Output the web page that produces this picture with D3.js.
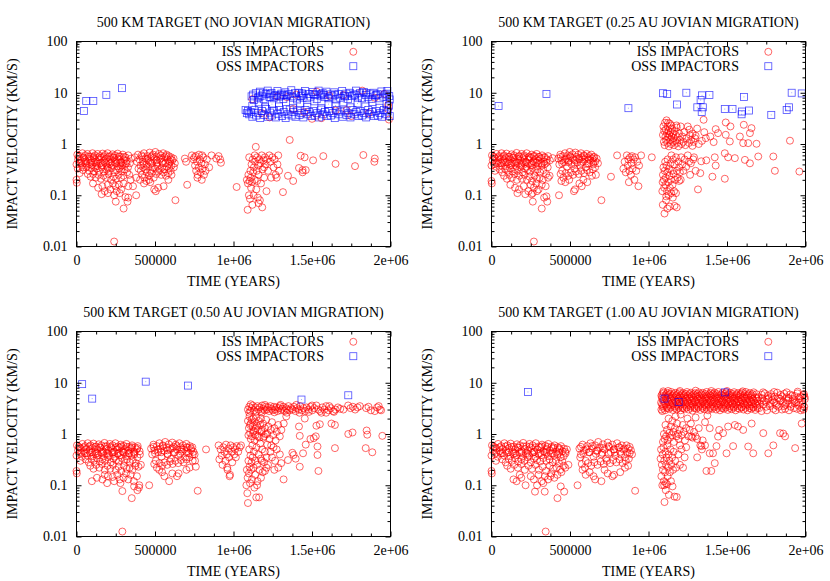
<!DOCTYPE html>
<html>
<head>
<meta charset="utf-8">
<script src="https://cdn.jsdelivr.net/npm/d3@7"></script>
<style>
  body { margin: 0; background: #fff; }
  text { font-family: "Liberation Serif", "Times New Roman", serif; font-size: 14px; fill: #000; }
</style>
</head>
<body>
<svg id="chart" width="830" height="581"></svg>
<script>
// titles, legend and tick labels
var titles = [
  "500 KM TARGET (NO JOVIAN MIGRATION)",
  "500 KM TARGET (0.25 AU JOVIAN MIGRATION)",
  "500 KM TARGET (0.50 AU JOVIAN MIGRATION)",
  "500 KM TARGET (1.00 AU JOVIAN MIGRATION)"
];
var seriesNames = ["ISS IMPACTORS", "OSS IMPACTORS"];
var xTitle = "TIME (YEARS)";
var yTitle = "IMPACT VELOCITY (KM/S)";
var xTicks = [0, 500000, 1000000, 1500000, 2000000];
var xTickLabels = ["0", "500000", "1e+06", "1.5e+06", "2e+06"];
var yTicks = [0.01, 0.1, 1, 10, 100];
var yTickLabels = ["0.01", "0.1", "1", "10", "100"];

// points are [time in kyr, impact velocity in km/s]

// ---- panel 1: no jovian migration
var p1Iss = [
  [5,.62],[22,.58],[38,.66],[55,.6],[70,.64],[88,.57],[102,.66],[118,.6],[135,.64],[150,.58],[166,.65],[182,.61],[198,.66],[214,.58],[230,.63],[246,.6],[262,.65],[278,.57],[295,.62],[312,.55],[330,.6],[348,.52],
  [10,.5],[28,.47],[45,.53],[60,.46],[78,.51],[95,.48],[110,.53],[126,.46],[142,.5],[158,.54],[174,.47],[190,.52],[206,.45],[222,.5],[238,.54],[254,.47],[270,.51],[286,.45],[302,.5],[320,.47],[340,.42],
  [0,.4],[18,.42],[35,.38],[52,.43],[68,.37],[84,.41],[100,.39],[115,.44],[132,.37],[148,.42],[164,.38],[180,.43],[196,.36],[212,.41],[228,.39],[244,.44],[260,.37],[276,.42],[292,.38],[310,.4],[328,.35],
  [8,.33],[42,.31],[62,.35],[80,.3],[96,.34],[112,.29],[128,.33],[145,.3],[160,.35],[176,.29],[192,.32],[208,.3],[224,.34],[240,.28],[256,.31],[272,.33],[288,.29],[306,.32],[322,.28],
  [20,.27],[72,.26],[90,.23],[106,.26],[122,.22],[140,.25],[156,.21],[172,.24],[188,.22],[204,.26],[220,.2],[236,.23],[252,.21],[268,.25],[284,.22],[300,.24],[336,.25],
  [14,.56],[46,.55],[78,.57],[110,.56],[142,.55],[174,.57],[206,.56],[238,.55],[270,.57],[302,.56],[30,.43],[62,.42],[94,.44],[126,.42],[158,.43],[190,.41],[222,.44],[254,.42],[286,.43],[318,.42],[40,.35],[120,.36],[200,.34],[280,.36],
  [0,.2],[2,.175],[105,.17],[138,.14],[165,.15],[180,.12],[200,.16],[215,.13],[232,.17],[248,.15],[256,.12],[270,.16],[285,.13],[300,.17],[330,.15],[345,.2],[160,.105],[200,.11],[240,.1],[275,.11],
  [250,.075],[300,.055],[312,.092],[330,.09],[325,.075],[240,.0125],[380,.1],[360,.15],
  [372,.55],[385,.45],[392,.62],[400,.5],[408,.38],[415,.6],[422,.45],[430,.66],[438,.52],[445,.4],[452,.58],[460,.47],[466,.68],[474,.55],[480,.42],[488,.62],[495,.5],[502,.7],[510,.57],[516,.44],[524,.64],[530,.5],[538,.6],[545,.45],[552,.66],[560,.55],[566,.42],[574,.62],[580,.5],[588,.58],[595,.45],[602,.55],[610,.48],[618,.52],[626,.42],
  [420,.56],[450,.5],[480,.58],[510,.48],[540,.53],[570,.58],[600,.5],[430,.42],[470,.44],[510,.41],[550,.43],[590,.41],
  [395,.33],[410,.3],[425,.35],[440,.32],[455,.36],[470,.3],[485,.35],[500,.33],[515,.37],[530,.31],[545,.35],[560,.32],[575,.36],[590,.34],[605,.38],[620,.35],
  [418,.25],[432,.22],[448,.28],[462,.24],[478,.27],[492,.22],[508,.26],[522,.29],[540,.25],[555,.28],[570,.24],[585,.27],[600,.3],
  [380,.22],[405,.2],[430,.17],[445,.19],[470,.18],[495,.13],[505,.12],[520,.14],[555,.15],[585,.2],[462,.2],[630,.08],[605,.25],
  [690,.52],[698,.45],[705,.16],[735,.6],[745,.5],[750,.55],[755,.38],[762,.3],[768,.45],[772,.25],[778,.35],[780,.62],[785,.5],[790,.28],[795,.42],[798,.2],[802,.33],[808,.55],[812,.25],[818,.4],[822,.3],[830,.5],[845,.35],[860,.6],[890,.52],[905,.58],[915,.5],[920,.43],[770,.22],[760,.58],[800,.6],
  [1020,.145],
  [1085,.2],[1090,.052],[1092,.17],[1095,.25],[1098,.1],[1100,.55],[1102,.19],[1105,.085],[1108,.3],[1110,.22],[1112,.14],[1115,.4],[1118,.18],[1120,.065],[1122,.5],[1125,.28],[1128,.1],[1130,.35],[1135,.2],[1138,.45],[1142,.88],[1145,.13],[1148,.3],[1150,.55],[1155,.09],[1158,.38],[1160,.25],[1165,.5],[1168,.08],[1172,.42],[1175,.17],[1180,.6],[1183,.058],[1185,.32],[1190,.48],[1195,.22],[1200,.55],[1205,.4],[1210,.12],[1215,.5],[1220,.3],[1228,.6],[1235,.45],[1240,.22],[1248,.55],[1255,.35],[1262,.5],[1268,.25],[1275,.22],[1280,.4],[1285,.6],[1290,.3],[1150,.19],[1160,.07],[1135,.6],[1195,.35],
  [1315,.115],[1347,.24],[1358,1.2],[1380,.19],[1417,.34],[1428,.59],[1440,.31],[1453,.55],[1460,.31],[1507,.48],[1572,.58],[1650,.41],[1774,.37],[1827,.61],[1897,.45],[1900,.52],[1440,.28],
  [1180,4],[1230,3.3],[1280,8.5],[1340,8.2],[1400,9.2],[1450,4.2],[1500,3.1],[1560,3.2],[1610,8.8],[1650,4.5],[1700,9],[1750,3.5],[1820,11],[1860,4],[1900,8],[1960,9.5],[1985,5.8],[1990,3],[1985,4.8],[1120,7.5],[1380,4.8],[1530,10.5],[1720,4.6]
];
var p1Oss = [
  [47,4.4],[62,6.9],[107,6.9],[190,9.1],[290,12.3],
  [1115,8.5],[1130,7.2],[1142,9.8],[1155,8],[1168,10.5],[1180,8.8],[1192,7.5],[1205,9.5],[1218,11],[1230,8.2],[1242,9.9],[1255,7.8],[1268,9],[1280,10.8],[1292,8.4],[1305,9.6],[1318,7.6],[1330,10.2],[1342,8.8],[1355,9.4],[1368,11.2],[1380,8],[1392,9.8],[1405,7.4],[1418,10],[1430,8.6],[1442,9.2],[1455,10.8],[1468,7.8],[1480,9.5],[1492,8.4],[1505,10.4],[1518,9],[1530,7.5],[1542,11],[1555,8.8],[1568,9.8],[1580,8.2],[1592,10.5],[1605,7.8],[1618,9.3],[1630,8.5],[1642,10.2],[1655,7.4],[1668,9.5],[1680,8],[1692,10.8],[1705,8.8],[1718,9.6],[1730,7.6],[1742,10],[1755,8.6],[1768,9.2],[1780,11],[1792,8],[1805,9.8],[1818,7.8],[1830,10.4],[1842,9],[1855,8.2],[1868,9.6],[1880,7.6],[1892,10],[1905,8.8],[1918,9.4],[1930,7.8],[1942,10.6],[1955,8.4],[1968,9.2],[1980,10.8],[1992,8.6],[1995,7.4],
  [1125,9.2],[1190,10],[1260,8.6],[1320,9],[1370,8.5],[1440,8],[1510,9.5],[1575,9],[1645,9],[1710,8.5],[1775,9.2],[1845,9.8],[1910,9],[1975,9.6],[1165,8.4],[1235,9.3],[1300,8.8],[1435,9.7],[1560,9.4],
  [1120,5.5],[1160,6.5],[1200,5.2],[1245,6],[1290,5.4],[1335,6.6],[1380,5],[1425,6.2],[1470,5.3],[1515,6.8],[1560,5],[1605,6],[1650,5.6],[1700,6.5],[1745,5.2],[1790,6.2],[1840,5.4],[1885,6.6],[1930,5.1],[1975,6],
  [1077,4.6],[1085,4],[1092,4.4],[1100,3.8],[1110,4.2],[1120,3.4],[1132,4.6],[1145,3.6],[1158,4],[1170,3.2],[1182,4.4],[1195,3.7],[1208,4.8],[1220,3.4],[1232,4.1],[1245,3.6],[1258,4.5],[1270,3.3],[1282,3.9],[1295,4.6],[1308,3.5],[1320,4.2],[1332,3.2],[1345,3.8],[1358,4.7],[1370,3.6],[1382,4.2],[1395,3.4],[1408,4.5],[1420,3.7],[1432,4],[1445,3.3],[1458,4.6],[1470,3.8],[1482,4.2],[1495,3.5],[1508,4.4],[1520,3.6],[1532,4],[1545,3.3],[1558,4.7],[1570,3.8],[1582,4.2],[1595,3.5],[1608,4.4],[1620,3.6],[1632,4],[1645,3.2],[1658,4.6],[1670,3.8],[1682,4.3],[1695,3.4],[1708,4.5],[1720,3.7],[1732,4],[1745,3.3],[1758,4.6],[1770,3.8],[1782,4.2],[1795,3.5],[1808,4.4],[1820,3.6],[1832,4],[1845,3.3],[1858,4.6],[1870,3.8],[1882,4.2],[1895,3.5],[1908,4.4],[1920,3.6],[1932,4],[1945,3.4],[1958,4.6],[1970,3.8],[1982,4.3],[1995,3.5],[1990,5.6]
];

// ---- panel 2: 0.25 AU migration
var p2Iss = [
  [3,.6],[18,.55],[32,.64],[48,.58],[64,.66],[80,.6],[96,.65],[112,.57],[128,.63],[144,.6],[160,.67],[176,.58],[192,.64],[208,.6],[224,.66],[240,.57],[256,.62],[272,.59],[288,.64],[304,.56],[322,.6],[340,.55],[360,.58],
  [8,.48],[25,.52],[42,.46],[58,.51],[74,.47],[90,.53],[106,.45],[122,.5],[138,.54],[154,.46],[170,.51],[186,.48],[202,.53],[218,.45],[234,.5],[250,.54],[266,.46],[282,.51],[298,.47],[316,.52],[334,.45],[352,.5],[372,.48],
  [0,.38],[15,.41],[30,.36],[46,.42],[62,.38],[78,.43],[94,.37],[110,.41],[126,.39],[142,.44],[158,.37],[174,.42],[190,.38],[206,.43],[222,.36],[238,.41],[254,.39],[270,.44],[286,.37],[302,.42],[320,.38],[338,.4],[358,.35],
  [22,.3],[52,.32],[68,.28],[86,.33],[102,.3],[118,.34],[134,.29],[150,.32],[166,.3],[182,.35],[198,.28],[214,.33],[230,.31],[246,.29],[262,.34],[278,.3],[294,.32],[310,.28],[330,.31],[348,.26],
  [80,.24],[98,.21],[114,.25],[130,.22],[146,.26],[162,.2],[178,.24],[194,.21],[210,.25],[226,.2],[242,.23],[258,.19],[274,.24],[290,.21],[306,.22],[326,.2],[360,.22],
  [14,.56],[46,.55],[78,.57],[110,.56],[142,.55],[174,.57],[206,.56],[238,.55],[270,.57],[302,.56],[334,.55],[30,.43],[62,.42],[94,.44],[126,.42],[158,.43],[190,.41],[222,.44],[254,.42],[286,.43],[318,.42],[350,.43],
  [0,.19],[2,.17],[120,.16],[150,.14],[175,.13],[205,.15],[235,.12],[250,.16],[262,.11],[270,.14],[285,.17],[300,.13],[320,.16],[345,.15],[370,.24],[165,.11],[215,.105],[255,.105],[290,.12],
  [263,.075],[320,.055],[335,.09],[355,.075],[350,.095],[270,.0125],[430,.1],[390,.53],
  [425,.52],[432,.4],[438,.62],[445,.48],[450,.3],[455,.58],[462,.44],[468,.66],[475,.52],[480,.36],[486,.6],[492,.47],[498,.7],[504,.55],[510,.4],[516,.63],[522,.5],[528,.33],[534,.68],[540,.56],[546,.44],[552,.62],[558,.5],[564,.38],[570,.66],[576,.55],[582,.45],[588,.6],[594,.5],[600,.35],[606,.64],[612,.54],[618,.42],[624,.58],[630,.48],[636,.62],[642,.52],[648,.4],[655,.56],[662,.46],[670,.52],[678,.42],
  [440,.56],[470,.5],[500,.58],[530,.48],[560,.53],[590,.58],[620,.5],[650,.55],[450,.42],[490,.44],[530,.41],[570,.43],[610,.41],[650,.44],
  [440,.26],[458,.22],[472,.27],[490,.24],[505,.28],[520,.25],[538,.29],[555,.26],[572,.3],[590,.27],[608,.31],[625,.28],[645,.32],[660,.35],
  [445,.19],[470,.18],[495,.2],[525,.12],[532,.13],[560,.17],[575,.15],[585,.2],[610,.18],[640,.24],[665,.25],[700,.08],
  [761,.23],[800,.6],[840,.33],[848,.45],[855,.28],[862,.6],[868,.38],[872,.5],[878,.3],[882,.55],[888,.25],[892,.42],[898,.33],[905,.5],[910,.2],[915,.55],[922,.3],[928,.45],[936,.15],[940,.38],[953,.6],[875,.18],[895,.58],
  [1021,.55],
  [1092,1.5],[1095,2.2],[1098,1.1],[1100,1.8],[1103,.95],[1105,2.6],[1108,1.4],[1110,1.9],[1112,1.2],[1115,2.9],[1118,1.6],[1120,1.05],[1122,2.2],[1125,1.35],[1128,1.8],[1130,.9],[1133,1.5],[1136,2.5],[1138,1.2],[1140,1.7],[1143,1],[1146,1.4],[1150,2],[1153,1.1],[1156,1.6],[1160,1.3],[1163,.95],[1166,1.8],[1170,1.15],[1174,1.5],[1178,2.3],[1182,1.05],[1186,1.35],[1190,.9],[1195,1.6],[1200,1.2],[1205,2.2],[1210,1],[1215,1.4],[1222,1.1],[1228,1.7],[1235,.95],[1242,1.3],[1250,2.2],[1258,1.05],[1265,1.5],[1272,1.2],[1280,.92],[1288,1.1],[1295,1.3],[1180,2.1],[1125,2.6],[1145,2.3],
  [1351,2.97],[1428,1.95],[1394,1.4],[1443,1.63],[1415,1.09],[1492,2.63],[1492,1.51],[1522,2.2],[1518,1.12],[1582,1.4],[1607,2.37],[1646,1.63],[1656,2.04],[1603,1.04],[1635,1.04],[1688,1.01],[1901,1.16],[1486,.66],[1507,.55],[1550,.53],[1614,.49],[1646,.42],[1699,.57],[1795,.57],[1805,.3],[1961,.29],[1407,.23],[1486,.21],[1428,.38],[1315,.13],[1336,.46],[1368,.48],[1422,.55],
  [1340,1.15],[1355,1.7],[1365,1.3],[1300,1.45],[1310,2],[1320,1],[1280,1.6],[1260,1.9],[1300,.3],[1285,.5],[1290,.55],[1270,.42],[1330,.27],
  [1091,.065],[1102,.044],[1113,.095],[1145,.11],[1166,.062],[1088,.12],[1090,.18],[1092,.25],[1095,.35],[1098,.2],[1100,.14],[1103,.3],[1106,.45],[1108,.16],[1110,.22],[1112,.08],[1115,.38],[1118,.12],[1120,.28],[1122,.5],[1125,.18],[1128,.1],[1130,.33],[1133,.24],[1136,.14],[1140,.42],[1143,.2],[1146,.6],[1150,.3],[1153,.16],[1156,.5],[1160,.26],[1163,.12],[1166,.4],[1170,.2],[1175,.55],[1180,.3],[1185,.22],[1190,.45],[1195,.35],[1200,.28],[1208,.55],[1215,.4],[1222,.3],[1230,.5],[1240,.36],[1250,.6],[1258,.45],[1265,.25],[1155,.09],[1175,.11],[1180,.058],[1195,.19],[1205,.2],[1120,.055],[1135,.06]
];
var p2Oss = [
  [45,5.5],[350,9.5],[872,5],[1092,9.8],[1119,9.5],[1181,5.9],[1241,10],[1311,5.2],[1332,7.2],[1341,8.9],[1346,5.2],[1339,4.2],[1388,9],[1486,4.8],[1535,4.8],[1593,3.8],[1595,4.3],[1608,8.3],[1640,4.5],[1782,3.7],[1880,4.6],[1895,5.2],[1912,10],[1976,9.7]
];

// ---- panel 3: 0.50 AU migration
var p3Iss = [
  [3,.6],[20,.55],[38,.64],[55,.58],[72,.66],[90,.6],[108,.65],[125,.57],[142,.63],[160,.6],[178,.67],[195,.58],[212,.64],[230,.6],[248,.66],[265,.57],[282,.62],[300,.59],[318,.64],[336,.56],[354,.6],[372,.55],[390,.58],
  [10,.48],[28,.52],[46,.46],[64,.51],[82,.47],[100,.53],[118,.45],[135,.5],[152,.54],[170,.46],[188,.51],[205,.48],[222,.53],[240,.45],[258,.5],[275,.54],[292,.46],[310,.51],[328,.47],[346,.52],[365,.45],[384,.5],[402,.46],
  [0,.38],[18,.41],[35,.36],[52,.42],[70,.38],[88,.43],[105,.37],[122,.41],[140,.39],[158,.44],[175,.37],[192,.42],[210,.38],[228,.43],[245,.36],[262,.41],[280,.39],[298,.44],[315,.37],[332,.42],[350,.38],[368,.4],[388,.35],
  [25,.3],[58,.32],[78,.28],[95,.33],[112,.3],[130,.34],[148,.29],[165,.32],[182,.3],[200,.35],[218,.28],[235,.33],[252,.31],[270,.29],[288,.34],[305,.3],[322,.32],[340,.28],[358,.31],[378,.27],
  [88,.24],[108,.21],[125,.25],[145,.22],[162,.26],[180,.2],[198,.24],[215,.21],[232,.25],[250,.2],[268,.23],[285,.19],[302,.24],[320,.21],[338,.22],[356,.2],[375,.24],[395,.23],[410,.25],
  [14,.56],[48,.55],[82,.57],[116,.56],[150,.55],[184,.57],[218,.56],[252,.55],[286,.57],[320,.56],[354,.55],[388,.53],[30,.43],[64,.42],[98,.44],[132,.42],[166,.43],[200,.41],[234,.44],[268,.42],[302,.43],[336,.42],[370,.43],[404,.4],
  [0,.19],[2,.17],[98,.12],[130,.14],[165,.13],[200,.15],[240,.12],[260,.16],[280,.11],[300,.14],[315,.17],[330,.13],[345,.16],[365,.12],[385,.15],[400,.1],[195,.11],[275,.13],[230,.145],[180,.16],
  [292,.077],[352,.056],[367,.095],[388,.08],[398,.09],[292,.0125],[463,.1],
  [475,.52],[482,.4],[490,.62],[498,.48],[505,.3],[512,.58],[520,.44],[528,.66],[535,.52],[542,.36],[550,.6],[558,.47],[565,.7],[572,.55],[580,.4],[588,.63],[595,.5],[602,.33],[610,.68],[618,.56],[625,.44],[632,.62],[640,.5],[648,.38],[655,.66],[662,.55],[670,.45],[678,.6],[685,.5],[692,.35],[700,.64],[708,.54],[715,.42],[722,.58],[730,.48],[738,.55],[745,.45],[752,.4],
  [490,.56],[520,.5],[550,.58],[580,.48],[610,.53],[640,.58],[670,.5],[700,.55],[730,.52],[500,.42],[540,.44],[580,.41],[620,.43],[660,.41],[700,.44],[740,.4],
  [495,.26],[512,.22],[528,.27],[545,.24],[560,.28],[578,.25],[595,.29],[612,.26],[630,.3],[648,.27],[665,.31],[682,.28],[700,.32],[720,.35],[740,.3],
  [527,.2],[545,.18],[560,.15],[590,.12],[610,.17],[640,.15],[650,.17],[700,.2],[720,.22],[760,.23],[772,.078],[755,.3],
  [825,.5],
  [905,.6],[910,.32],[918,.5],[925,.38],[930,.25],[935,.55],[942,.45],[948,.3],[952,.62],[958,.4],[962,.2],[968,.52],[972,.35],[978,.16],[982,.6],[988,.45],[992,.28],[998,.55],[1005,.4],[1010,.5],[1015,.35],[1020,.58],[1030,.45],[1040,.55],[1048,.6],[975,.15],[960,.22],
  [1082,.1],[1085,.2],[1088,.07],[1090,.14],[1092,.045],[1095,.3],[1098,.17],[1100,.5],[1102,.23],[1105,.11],[1108,.38],[1110,.8],[1112,.2],[1115,.28],[1118,.13],[1120,.6],[1122,.35],[1125,1.1],[1128,.22],[1130,.45],[1133,.09],[1135,.75],[1138,.16],[1140,.3],[1143,1.3],[1146,.55],[1150,.25],[1153,.12],[1156,.9],[1160,.4],[1163,.058],[1166,.2],[1170,.65],[1174,.33],[1178,1.2],[1182,.5],[1186,.18],[1190,.85],[1195,.28],[1200,.45],[1205,1],[1210,.35],[1215,.62],[1145,.058],[1105,1.5],[1095,.95],[1150,.1],[1175,.14],
  [1092,1.8],[1098,1.3],[1102,2.2],[1106,1.05],[1110,1.6],[1115,1.9],[1118,.9],[1122,1.4],[1126,2],[1130,1.15],[1135,1.7],[1140,.95],[1145,2.1],[1150,1.45],[1155,1.2],[1160,1.8],[1165,.85],[1170,1.5],[1175,2],[1180,1.1],[1188,1.6],[1195,.9],[1200,1.3],[1208,1.9],[1215,1],[1222,1.4],[1230,.8],[1238,1.2],[1245,1.7],[1252,.95],[1260,1.3],[1268,.75],[1275,1.1],[1285,1.5],[1295,.9],[1305,1.2],[1320,1.6],[1336,2.2],
  [1220,.25],[1235,.45],[1245,.35],[1255,.55],[1265,.3],[1275,.5],[1285,.22],[1295,.4],[1304,.27],[1319,.13],[1347,.31],[1375,.43],[1383,.39],[1396,.33],[1422,.23],[1443,.42],[1460,.62],[1490,.8],[1511,.83],[1524,.9],[1535,.57],[1535,.39],[1541,.19],[1646,.53],[1842,.53],[1884,.44],[1417,1.4],[1422,.92],[1454,2],[1528,1.45],[1550,1.55],[1624,1.6],[1646,1.5],[1731,1],[1758,1.07],[1848,1.17],[1852,.97],[1948,.92],[1240,.6],[1260,.2],[1200,.19],[1210,.22],[1180,.3],
  [1092,3],[1100,3.4],[1108,2.8],[1115,3.2],[1122,3.6],[1130,2.9],[1138,3.3],[1145,2.7],[1152,3.5],[1160,3],[1168,3.3],[1175,2.8],[1182,3.6],[1190,3.1],[1198,2.9],[1205,3.4],[1212,3],[1220,3.3],[1228,2.8],[1235,3.5],[1242,3.1],[1250,2.9],[1258,3.4],[1265,3],[1272,3.3],[1280,2.8],[1288,3.2],[1295,3.5],[1302,2.9],[1310,3.1],[1318,3.4],[1326,2.8],[1334,3.2],[1342,3],[1350,3.5],[1358,2.9],[1366,3.2],[1375,3],[1385,3.4],[1395,2.8],[1405,3.2],[1415,3],[1425,3.5],[1435,2.9],[1445,3.2],[1455,2.8],[1465,3.3],[1478,3],[1490,3.4],[1502,2.9],[1515,3.2],[1528,3.6],[1540,3],[1552,2.8],[1565,3.3],[1578,3],[1590,3.5],[1605,2.9],[1620,3.2],[1635,2.8],[1650,3],[1665,3.3],[1680,3.1],[1730,3.6],[1745,3.2],[1760,3.4],[1775,3],[1790,3.3],[1805,3.5],[1845,3.2],[1860,3.4],[1875,2.9],[1900,2.8],[1915,3.3],[1925,3.5],[1932,3],[1940,2.9],
  [1480,2.7],[1560,2.6],[1640,2.7],[1100,2.6],[1180,2.6],[1260,2.65],[1340,2.6],[1420,2.6],[1110,3.8],[1200,3.7],[1300,3.7],[1400,3.7],[1500,3.6],[1590,2.6],[1610,3.5],[1700,3]
];
var p3Oss = [
  [36,9.4],[100,4.9],[441,10.5],[710,8.8],[1433,4.7],[1731,5.7]
];

// ---- panel 4: 1.00 AU migration
var p4Iss = [
  [3,.6],[22,.55],[42,.64],[62,.58],[82,.66],[102,.6],[122,.65],[142,.57],[162,.63],[182,.6],[202,.67],[222,.58],[242,.64],[262,.6],[282,.66],[302,.57],[322,.62],[342,.59],[362,.64],[382,.56],[402,.6],[422,.55],[442,.58],[462,.52],[480,.5],
  [10,.48],[32,.52],[52,.46],[72,.51],[92,.47],[112,.53],[132,.45],[152,.5],[172,.54],[192,.46],[212,.51],[232,.48],[252,.53],[272,.45],[292,.5],[312,.54],[332,.46],[352,.51],[372,.47],[392,.52],[412,.45],[432,.5],[452,.46],[472,.42],
  [0,.38],[20,.41],[40,.36],[60,.42],[80,.38],[100,.43],[120,.37],[140,.41],[160,.39],[180,.44],[200,.37],[220,.42],[240,.38],[260,.43],[280,.36],[300,.41],[320,.39],[340,.44],[360,.37],[380,.42],[400,.38],[420,.4],[440,.35],[460,.37],
  [28,.3],[68,.32],[90,.28],[110,.33],[130,.3],[150,.34],[170,.29],[190,.32],[210,.3],[230,.35],[250,.28],[270,.33],[290,.31],[310,.29],[330,.34],[350,.3],[370,.32],[390,.28],[410,.31],[430,.27],[450,.3],
  [100,.24],[122,.21],[145,.25],[168,.22],[190,.26],[212,.2],[235,.24],[258,.21],[280,.25],[302,.2],[325,.23],[348,.19],[370,.24],[392,.21],[415,.22],[438,.2],[460,.24],[490,.25],
  [14,.56],[52,.55],[90,.57],[128,.56],[166,.55],[204,.57],[242,.56],[280,.55],[318,.57],[356,.56],[394,.55],[432,.53],[30,.43],[70,.42],[110,.44],[150,.42],[190,.43],[230,.41],[270,.44],[310,.42],[350,.43],[390,.42],[430,.43],[470,.45],
  [0,.19],[2,.17],[140,.13],[160,.12],[190,.14],[217,.1],[250,.15],[270,.13],[300,.16],[320,.12],[340,.15],[360,.13],[380,.17],[400,.14],[420,.16],[445,.18],[470,.22],[290,.1],[330,.11],[180,.16],
  [277,.075],[339,.075],[420,.056],[441,.095],[463,.075],[345,.0125],[548,.1],[375,.15],
  [560,.52],[570,.4],[580,.62],[590,.48],[600,.3],[610,.58],[620,.44],[630,.66],[640,.52],[650,.36],[660,.6],[670,.47],[680,.7],[690,.55],[700,.4],[710,.63],[720,.5],[730,.33],[740,.68],[750,.56],[760,.44],[770,.62],[780,.5],[790,.38],[800,.66],[810,.55],[820,.45],[830,.6],[840,.5],[850,.35],[860,.6],[870,.52],[880,.42],[888,.48],[895,.4],
  [570,.56],[605,.5],[640,.58],[675,.48],[710,.53],[745,.58],[780,.5],[815,.55],[850,.52],[880,.56],[585,.42],[625,.44],[665,.41],[705,.43],[745,.41],[785,.44],[825,.4],[865,.43],
  [575,.26],[595,.22],[615,.27],[635,.24],[655,.28],[675,.25],[695,.29],[715,.26],[735,.3],[755,.27],[775,.31],[795,.28],[815,.32],[835,.27],[855,.3],[875,.33],
  [580,.2],[600,.16],[625,.18],[650,.15],[660,.13],[700,.12],[720,.2],[740,.17],[770,.15],[780,.16],[820,.18],[850,.22],[870,.24],[915,.078],[565,.35],
  [1077,.33],[1080,.5],[1082,.15],[1085,.25],[1088,.1],[1090,.4],[1092,.2],[1095,.55],[1098,.12],[1100,.3],[1102,.047],[1105,.18],[1108,.45],[1110,.08],[1112,.25],[1115,.35],[1118,.105],[1120,.6],[1122,.15],[1125,.22],[1128,.4],[1130,.065],[1133,.3],[1136,.18],[1140,.5],[1143,.12],[1146,.25],[1150,.35],[1153,.095],[1156,.2],[1160,.45],[1165,.06],[1170,.3],[1175,.22],[1180,.059],[1190,.4],[1200,.25],[1210,.5],[1220,.22],[1230,.35],[1110,.11],[1100,.1],
  [1092,.7],[1098,1],[1102,.8],[1108,1.5],[1112,.9],[1118,1.2],[1122,.75],[1128,2],[1132,1.05],[1138,.85],[1142,1.4],[1148,.95],[1152,1.8],[1158,1.1],[1162,.7],[1168,1.3],[1172,2.2],[1178,.9],[1182,1.6],[1188,1],[1192,.8],[1198,1.2],[1205,2.4],[1210,.95],[1218,1.5],[1225,1.1],[1232,.75],[1240,1.3],[1248,2],[1255,.9],[1262,1.2],[1270,1.6],[1280,.85],[1290,1.1],[1300,2.1],[1310,.8],[1320,1.3],[1330,.6],[1345,.75],[1360,1.7],[1375,2.3],[1390,1.3],[1200,.6],[1240,.55],[1273,.89],[1337,.58],[1300,.9],
  [1369,.19],[1422,.27],[1411,.42],[1433,.58],[1443,.89],[1475,1.04],[1497,.42],[1507,1.4],[1539,.58],[1550,1.5],[1570,1.4],[1603,1.2],[1635,.57],[1657,1.6],[1667,.42],[1731,1.04],[1763,.42],[1795,.6],[1838,1.04],[1858,1.02],[1870,.9],[1934,.53],[1976,1.6],[1390,.42],[1360,.6],[1340,.5],[1310,.35],[1400,.19],[1450,1.2],
  [1082,3],[1105,2.9],[1130,3.1],[1155,2.95],[1180,3.05],[1205,2.9],[1230,3.1],[1255,3],[1280,2.85],[1305,3.1],[1330,2.95],[1355,3.05],[1380,2.9],[1405,3.1],[1430,3],[1455,2.9],[1480,3.1],[1505,2.95],[1530,3.05],[1555,2.9],[1580,3.1],[1605,3],[1630,2.9],[1655,3.1],[1680,2.95],
  [1093,3.25],[1118,3.2],[1143,3.3],[1168,3.22],[1193,3.28],[1218,3.2],[1243,3.3],[1268,3.25],[1293,3.18],[1318,3.3],[1343,3.22],[1368,3.28],[1393,3.2],[1418,3.3],[1443,3.25],[1468,3.18],[1493,3.3],[1518,3.22],[1543,3.28],[1568,3.2],[1593,3.3],[1618,3.25],[1643,3.2],[1668,3.28],[1693,3.22],
  [1092,3.5],[1117,3.4],[1142,3.6],[1167,3.45],[1192,3.55],[1217,3.4],[1242,3.6],[1267,3.5],[1292,3.4],[1317,3.55],[1342,3.45],[1367,3.6],[1392,3.4],[1417,3.5],[1442,3.55],[1467,3.4],[1492,3.6],[1517,3.5],[1542,3.45],[1567,3.55],[1592,3.4],[1617,3.6],[1642,3.5],[1667,3.4],[1692,3.55],
  [1086,3.8],[1111,3.75],[1136,3.85],[1161,3.78],[1186,3.82],[1211,3.75],[1236,3.85],[1261,3.8],[1286,3.72],[1311,3.85],[1336,3.78],[1361,3.82],[1386,3.75],[1411,3.85],[1436,3.8],[1461,3.72],[1486,3.85],[1511,3.78],[1536,3.82],[1561,3.75],[1586,3.85],[1611,3.8],[1636,3.75],[1661,3.82],[1686,3.78],
  [1080,4.1],[1104,4],[1128,4.2],[1152,4.05],[1176,4.15],[1200,4],[1224,4.2],[1248,4.1],[1272,3.95],[1296,4.15],[1320,4.05],[1344,4.2],[1368,4],[1392,4.1],[1416,4.2],[1440,4],[1464,4.15],[1488,4.05],[1512,4.2],[1536,4],[1560,4.1],[1584,4.2],[1608,4],[1632,4.1],[1656,4.15],[1680,4],
  [1095,4.45],[1120,4.4],[1145,4.5],[1170,4.42],[1195,4.48],[1220,4.4],[1245,4.5],[1270,4.45],[1295,4.38],[1320,4.5],[1345,4.42],[1370,4.48],[1395,4.4],[1420,4.5],[1445,4.45],[1470,4.38],[1495,4.5],[1520,4.42],[1545,4.48],[1570,4.4],[1595,4.5],[1620,4.45],[1645,4.4],[1670,4.48],[1695,4.42],
  [1090,4.8],[1115,4.7],[1140,4.9],[1165,4.75],[1190,4.85],[1215,4.7],[1240,4.9],[1265,4.8],[1290,4.65],[1315,4.85],[1340,4.75],[1365,4.9],[1390,4.7],[1415,4.8],[1440,4.9],[1465,4.7],[1490,4.85],[1515,4.75],[1540,4.9],[1565,4.7],[1590,4.8],[1615,4.9],[1640,4.7],[1665,4.8],[1690,4.85],
  [1085,5.2],[1110,5.15],[1135,5.25],[1160,5.18],[1185,5.22],[1210,5.15],[1235,5.25],[1260,5.2],[1285,5.12],[1310,5.25],[1335,5.18],[1360,5.22],[1385,5.15],[1410,5.25],[1435,5.2],[1460,5.12],[1485,5.25],[1510,5.18],[1535,5.22],[1560,5.15],[1585,5.25],[1610,5.2],[1635,5.15],[1660,5.22],[1685,5.18],
  [1082,5.6],[1106,5.5],[1130,5.7],[1154,5.55],[1178,5.65],[1202,5.5],[1226,5.7],[1250,5.6],[1274,5.45],[1298,5.65],[1322,5.55],[1346,5.7],[1370,5.5],[1394,5.6],[1418,5.7],[1442,5.5],[1466,5.65],[1490,5.55],[1514,5.7],[1538,5.5],[1562,5.6],[1586,5.7],[1610,5.5],[1634,5.6],[1658,5.65],
  [1088,6],[1113,5.95],[1138,6.05],[1163,5.98],[1188,6.02],[1213,5.95],[1238,6.05],[1263,6],[1288,5.92],[1313,6.05],[1338,5.98],[1363,6.02],[1388,5.95],[1413,6.05],[1438,6],[1463,5.92],[1488,6.05],[1513,5.98],[1538,6.02],[1563,5.95],[1588,6.05],[1613,6],[1638,5.95],[1663,6.02],[1688,5.98],
  [1095,6.4],[1120,6.3],[1145,6.6],[1170,6.35],[1195,6.5],[1220,6.3],[1245,6.6],[1270,6.4],[1295,6.25],[1320,6.5],[1345,6.35],[1370,6.6],[1395,6.3],[1420,6.45],[1445,6.6],[1470,6.3],[1495,6.5],[1520,6.35],[1545,6.55],[1570,6.3],[1595,6.45],[1620,6.6],[1645,6.3],[1670,6.5],
  [1705,3.2],[1715,4.5],[1722,5.8],[1730,3.8],[1740,6.2],[1748,4.2],[1755,2.9],[1765,5],[1772,3.5],[1780,6],[1788,4.6],[1795,3.1],[1805,5.4],[1812,4],[1820,6.4],[1828,3.4],[1835,4.9],[1842,5.8],[1850,3],[1858,4.3],[1865,6.1],[1872,3.7],[1880,5.2],[1888,4.5],[1895,2.9],[1902,5.9],[1910,3.9],[1918,4.8],[1925,3.2],[1932,5.5],[1940,4.2],[1948,6.2],[1955,3.6],[1962,5],[1970,2.9],[1978,4.4],[1985,5.7],[1992,3.4],[1996,4.8],[1988,3],[1720,2.8],[1700,5.2],[1760,5.6],[1810,2.9],[1870,3.1],[1930,4],[1975,3.2],[1990,6],
  [1710,3.9],[1725,5],[1735,4.4],[1750,3.4],[1762,4.8],[1778,3.9],[1785,5.4],[1800,4.2],[1815,3.6],[1825,5],[1838,4.4],[1852,5.4],[1862,3.5],[1878,4],[1892,5],[1905,3.4],[1915,5.6],[1928,4.5],[1945,3.1],[1958,4.1],[1968,5.4],[1982,3.8],[1994,5.3],[1730,6.5],[1800,6.6],[1880,6.5],[1950,6.7],
  [1088,2.8],[1094,6.8],[1125,6.9],[1200,6.9],[1300,7],[1400,6.9],[1500,6.9],[1600,6.8]
];
var p4Oss = [
  [232,6.6],[1102,4.9],[1192,4.2],[1486,6.5]
];

var panels = [
  {title: titles[0], iss: p1Iss, oss: p1Oss},
  {title: titles[1], iss: p2Iss, oss: p2Oss},
  {title: titles[2], iss: p3Iss, oss: p3Oss},
  {title: titles[3], iss: p4Iss, oss: p4Oss}
];

// layout of one panel (every panel is 415 x 290)
var panelW = 415, panelH = 290;
var plot = {left: 76.5, right: 390.5, top: 41.5, bottom: 246.5};
var ptSize = 3.5;

var x = d3.scaleLinear().domain([0, 2e6]).range([plot.left, plot.right]);
var y = d3.scaleLog().domain([0.01, 100]).range([plot.bottom, plot.top]);

var xMinor = d3.range(0, 2e6, 125000).filter(function(v) { return v % 500000 !== 0; });
var yMinor = y.ticks().filter(function(v) {
  var l = Math.log10(v);
  return Math.abs(l - Math.round(l)) > 1e-6;
});

var svg = d3.select("#chart");

function styleAxis(g) {
  g.select(".domain").remove();
  g.attr("font-family", null).attr("font-size", null);
  g.selectAll("line").attr("stroke", "#000");
}

panels.forEach(function(p, i) {
  var g = svg.append("g")
    .attr("transform", "translate(" + (i % 2) * panelW + "," + Math.floor(i / 2) * panelH + ")");

  // ISS circles
  g.append("g").selectAll("circle")
    .data(p.iss)
    .enter()
    .append("circle")
    .attr("cx", function(d) { return x(d[0] * 1000); })
    .attr("cy", function(d) { return y(d[1]); })
    .attr("r", ptSize)
    .attr("fill", "none")
    .attr("stroke", "#ff0000")
    .attr("stroke-opacity", 0.8)
    .attr("stroke-width", 0.75);

  // OSS squares
  var sq = g.append("g").selectAll("g")
    .data(p.oss)
    .enter()
    .append("g")
    .attr("transform", function(d) { return "translate(" + x(d[0] * 1000) + "," + y(d[1]) + ")"; });
  sq.append("rect")
    .attr("x", -ptSize).attr("y", -ptSize)
    .attr("width", ptSize * 2).attr("height", ptSize * 2)
    .attr("fill", "none")
    .attr("stroke", "#0000ff")
    .attr("stroke-opacity", 0.7)
    .attr("stroke-width", 0.8);
  sq.append("rect")
    .attr("x", -0.5).attr("y", -0.5).attr("width", 1).attr("height", 1)
    .attr("fill", "#0000ff").attr("opacity", 0.35);

  // axes, ticks pointing inward and mirrored
  g.append("g")
    .attr("transform", "translate(0," + plot.bottom + ")")
    .call(d3.axisBottom(x).tickValues(xTicks).tickSize(-5).tickPadding(9)
      .tickFormat(function(d, k) { return xTickLabels[k]; }))
    .call(styleAxis);
  g.append("g")
    .attr("transform", "translate(0," + plot.bottom + ")")
    .call(d3.axisBottom(x).tickValues(xMinor).tickSize(-3).tickFormat(""))
    .call(styleAxis);
  g.append("g")
    .attr("transform", "translate(0," + plot.top + ")")
    .call(d3.axisTop(x).tickValues(xTicks).tickSize(-5).tickFormat(""))
    .call(styleAxis);
  g.append("g")
    .attr("transform", "translate(0," + plot.top + ")")
    .call(d3.axisTop(x).tickValues(xMinor).tickSize(-3).tickFormat(""))
    .call(styleAxis);

  g.append("g")
    .attr("transform", "translate(" + plot.left + ",0)")
    .call(d3.axisLeft(y).tickValues(yTicks).tickSize(-5).tickPadding(9)
      .tickFormat(function(d, k) { return yTickLabels[k]; }))
    .call(styleAxis);
  g.append("g")
    .attr("transform", "translate(" + plot.left + ",0)")
    .call(d3.axisLeft(y).tickValues(yMinor).tickSize(-3).tickFormat(""))
    .call(styleAxis);
  g.append("g")
    .attr("transform", "translate(" + plot.right + ",0)")
    .call(d3.axisRight(y).tickValues(yTicks).tickSize(-5).tickFormat(""))
    .call(styleAxis);
  g.append("g")
    .attr("transform", "translate(" + plot.right + ",0)")
    .call(d3.axisRight(y).tickValues(yMinor).tickSize(-3).tickFormat(""))
    .call(styleAxis);

  // border
  g.append("rect")
    .attr("x", plot.left).attr("y", plot.top)
    .attr("width", plot.right - plot.left).attr("height", plot.bottom - plot.top)
    .attr("fill", "none").attr("stroke", "#000").attr("stroke-width", 1);

  // title and axis labels
  var cx = (plot.left + plot.right) / 2;
  g.append("text").attr("x", cx).attr("y", 26.5)
    .attr("text-anchor", "middle").text(p.title);
  g.append("text").attr("x", cx).attr("y", 286)
    .attr("text-anchor", "middle").text(xTitle);
  g.append("text")
    .attr("transform", "translate(17.3," + (plot.top + plot.bottom) / 2 + ") rotate(-90)")
    .attr("text-anchor", "middle").text(yTitle);

  // legend
  g.append("text").attr("x", 324).attr("y", 56.4).attr("text-anchor", "end").text(seriesNames[0]);
  g.append("circle").attr("cx", 353.3).attr("cy", 51.8).attr("r", ptSize)
    .attr("fill", "none").attr("stroke", "#ff0000").attr("stroke-opacity", 0.8).attr("stroke-width", 0.75);
  g.append("text").attr("x", 324).attr("y", 70.8).attr("text-anchor", "end").text(seriesNames[1]);
  g.append("rect").attr("x", 353.3 - ptSize).attr("y", 66.2 - ptSize)
    .attr("width", ptSize * 2).attr("height", ptSize * 2)
    .attr("fill", "none").attr("stroke", "#0000ff").attr("stroke-opacity", 0.7).attr("stroke-width", 0.8);
});
</script>
</body>
</html>
